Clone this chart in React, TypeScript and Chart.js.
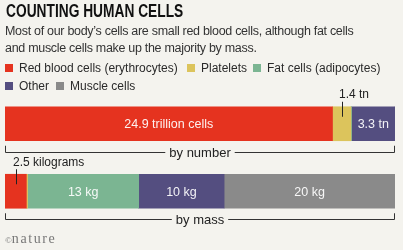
import React, { useEffect, useRef } from "react";
import { Chart, registerables } from "chart.js";

Chart.register(...registerables);

// ---- data ----
const categories = ["by number", "by mass"];
const cellTypes = [
  "Red blood cells (erythrocytes)",
  "Platelets",
  "Fat cells (adipocytes)",
  "Other",
  "Muscle cells",
];
const colors = ["#e5331f", "#dcc45c", "#7bb592", "#544e80", "#8a8a8a"];
// trillions of cells
const numberValues = [24.9, 1.4, 0.05, 3.3, 0.001];
// kilograms
const massValues = [2.5, 0.15, 13, 10, 20];
const numberInsideLabels = ["24.9 trillion cells", "", "", "3.3 tn", ""];
const massInsideLabels = ["", "", "13 kg", "10 kg", "20 kg"];
const numberCallouts = ["", "1.4 tn", "", "", ""];
const massCallouts = ["2.5 kilograms", "", "", "", ""];

const BG = "#f4f3ee";
const SANS = '"Liberation Sans", Arial, sans-serif';

const numberTotal = numberValues.reduce((a, b) => a + b, 0);
const massTotal = massValues.reduce((a, b) => a + b, 0);

const insideLabels = [numberInsideLabels, massInsideLabels];
const callouts = [numberCallouts, massCallouts];

const annotationPlugin = {
  id: "cellAnnotations",
  afterDatasetsDraw(chart: any) {
    const ctx = chart.ctx as CanvasRenderingContext2D;
    const area = chart.chartArea;
    ctx.save();
    chart.data.datasets.forEach((_ds: any, i: number) => {
      const meta = chart.getDatasetMeta(i);
      meta.data.forEach((el: any, j: number) => {
        const p = el.getProps(["x", "y", "base", "height"], true);
        const cx = (p.x + p.base) / 2;
        const top = p.y - p.height / 2;
        const inside = insideLabels[j][i];
        if (inside) {
          ctx.fillStyle = "rgba(255,255,255,0.93)";
          ctx.font = `12.5px ${SANS}`;
          ctx.textAlign = "center";
          ctx.textBaseline = "middle";
          ctx.fillText(inside, cx, p.y + 1);
        }
        const co = callouts[j][i];
        if (co) {
          ctx.strokeStyle = "#222";
          ctx.lineWidth = 1;
          const tx = Math.round(cx) + 0.5;
          ctx.beginPath();
          ctx.moveTo(tx, top - 5);
          ctx.lineTo(tx, top + 10);
          ctx.stroke();
          ctx.fillStyle = "#222";
          ctx.font = `12px ${SANS}`;
          ctx.textAlign = "left";
          ctx.textBaseline = "alphabetic";
          ctx.fillText(co, tx - 3.5, top - 8.5);
        }
      });
    });
    const meta0 = chart.getDatasetMeta(0);
    meta0.data.forEach((el: any, j: number) => {
      const p = el.getProps(["y", "height"], true);
      const bottom = p.y + p.height / 2;
      const lineY = Math.round(bottom + 11) + 0.5;
      const left = Math.round(area.left) + 0.5;
      const right = Math.round(area.right) - 0.5;
      const mid = (area.left + area.right) / 2;
      ctx.font = `13px ${SANS}`;
      const w = ctx.measureText(categories[j]).width;
      ctx.strokeStyle = "#333";
      ctx.lineWidth = 1;
      ctx.beginPath();
      ctx.moveTo(left, bottom + 5);
      ctx.lineTo(left, lineY);
      ctx.lineTo(mid - w / 2 - 4, lineY);
      ctx.moveTo(mid + w / 2 + 4, lineY);
      ctx.lineTo(right, lineY);
      ctx.lineTo(right, bottom + 5);
      ctx.stroke();
      ctx.fillStyle = "#222";
      ctx.textAlign = "center";
      ctx.textBaseline = "middle";
      ctx.fillText(categories[j], mid, lineY + 1);
    });
    ctx.restore();
  },
};

function ChartCanvas() {
  const ref = useRef<HTMLCanvasElement | null>(null);
  useEffect(() => {
    if (!ref.current) return;
    const datasets = cellTypes.map((name, i) => ({
      label: name,
      data: [
        (numberValues[i] / numberTotal) * 100,
        (massValues[i] / massTotal) * 100,
      ],
      backgroundColor: colors[i],
      borderWidth: 0,
      barThickness: 34,
    }));
    const chart = new Chart(ref.current, {
      type: "bar",
      data: { labels: categories, datasets },
      options: {
        indexAxis: "y",
        animation: false,
        responsive: false,
        devicePixelRatio: 1,
        layout: { padding: { top: 90, bottom: 25, left: 5, right: 8 } },
        scales: {
          x: { stacked: true, min: 0, max: 100, display: false },
          y: { stacked: true, display: false },
        },
        plugins: {
          legend: { display: false },
          tooltip: { enabled: false },
          title: { display: false },
        },
      },
      plugins: [annotationPlugin],
    });
    return () => chart.destroy();
  }, []);
  return (
    <canvas
      ref={ref}
      width={403}
      height={250}
      style={{ position: "absolute", left: 0, top: 0, width: 403, height: 250 }}
    />
  );
}

const legendItems = [
  { i: 0, x: 5, y: 64 },
  { i: 1, x: 187, y: 64 },
  { i: 2, x: 253, y: 64 },
  { i: 3, x: 5, y: 82 },
  { i: 4, x: 56, y: 82 },
];

export default function App() {
  return (
    <div
      style={{
        position: "relative",
        width: 403,
        height: 250,
        background: BG,
        overflow: "hidden",
        fontFamily: SANS,
        color: "#2a2a2a",
      }}
    >
      <style>{`html,body{margin:0;padding:0;background:${BG};}`}</style>
      <ChartCanvas />
      <div
        style={{
          position: "absolute",
          left: 5.5,
          top: 2.3,
          fontFamily: SANS,
          fontWeight: 700,
          fontSize: 18,
          lineHeight: "18px",
          color: "#111",
          whiteSpace: "nowrap",
          transform: "scaleX(0.764)",
          transformOrigin: "0 0",
        }}
      >
        COUNTING HUMAN CELLS
      </div>
      <div
        style={{
          position: "absolute",
          left: 5,
          top: 22.5,
          fontSize: 12.5,
          lineHeight: "17px",
          letterSpacing: "-0.3px",
          color: "#333",
          whiteSpace: "nowrap",
        }}
      >
        Most of our body’s cells are small red blood cells, although fat cells
        <br />
        and muscle cells make up the majority by mass.
      </div>
      {legendItems.map((it) => (
        <div
          key={it.i}
          style={{
            position: "absolute",
            left: it.x,
            top: it.y,
            display: "flex",
            alignItems: "center",
            height: 8,
            whiteSpace: "nowrap",
          }}
        >
          <span
            style={{
              display: "inline-block",
              width: 8,
              height: 8,
              background: colors[it.i],
              marginRight: 6,
            }}
          />
          <span style={{ fontSize: 12, lineHeight: "8px", color: "#2a2a2a" }}>
            {cellTypes[it.i]}
          </span>
        </div>
      ))}
      <div
        style={{
          position: "absolute",
          left: 5,
          top: 230,
          fontFamily: '"Liberation Serif", "DejaVu Serif", serif',
          color: "#777",
          whiteSpace: "nowrap",
          lineHeight: "16px",
        }}
      >
        <span style={{ fontSize: 9 }}>©</span>
        <span style={{ fontSize: 14, letterSpacing: 1.6 }}>nature</span>
      </div>
    </div>
  );
}
